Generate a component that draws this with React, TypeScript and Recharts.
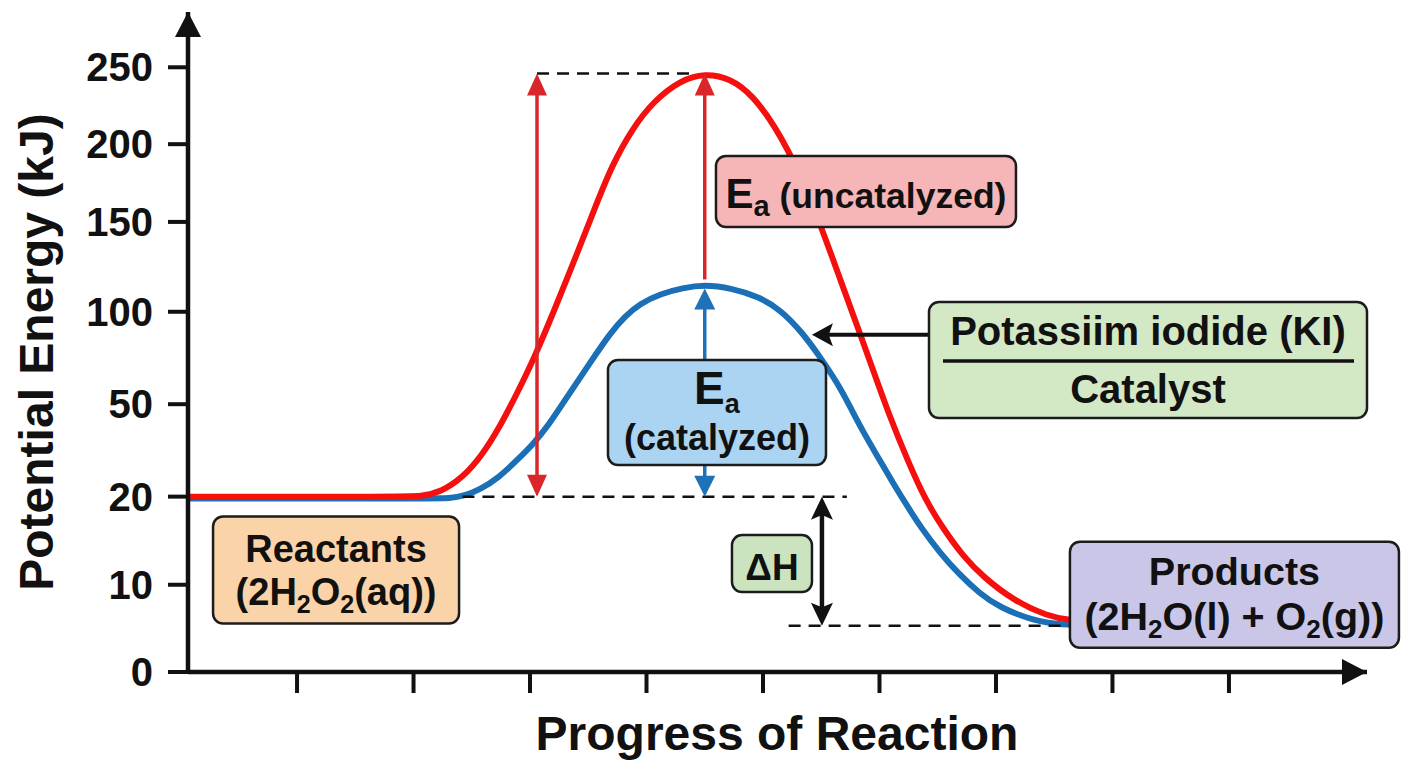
import React from "react";
import { LineChart, Line, XAxis, YAxis, ReferenceLine, ReferenceDot, Label } from "recharts";

const FONT = '"Liberation Sans", Arial, Helvetica, sans-serif';
const INK = "#111111";

// y axis labels sit at (almost) even spacing, so the scale is piecewise
const Y_TICK_VALUES = [0, 10, 20, 50, 100, 150, 200, 250];
const Y_TICK_SLOTS = [0, 1.01, 2.03, 3.1, 4.17, 5.21, 6.11, 7];
const Y_MAX = 7.64;

const X_TICKS = [1, 2, 3, 4, 5, 6, 7, 8, 9];
const X_MIN = 0.064;
const X_MAX = 10.185;

// uncatalyzed path (red)
const UNCAT_X = [0.06, 1.9, 2.06, 2.24, 2.42, 2.59, 2.74, 2.89, 3.04, 3.21, 3.4, 3.56, 3.7, 3.88, 4.06, 4.29, 4.5, 4.72, 4.91, 5.1, 5.31, 5.51, 5.67, 5.83, 5.96, 6.09, 6.24, 6.39, 6.55, 6.72, 6.89, 7.15, 7.44, 7.64, 7.89];
const UNCAT_KJ = [20, 20, 20, 21.6, 26.1, 33.5, 42.6, 56, 75.5, 101.1, 131.7, 159.6, 185.9, 210.4, 227.9, 241.6, 246.1, 242.9, 231.8, 212.3, 182.7, 145.6, 116.7, 88.6, 65.8, 45.8, 31.9, 19.7, 16.3, 13.2, 10.9, 8.2, 6.4, 5.9, 5.7];

// catalyzed path (blue)
const CAT_X = [0.06, 2.15, 2.31, 2.44, 2.57, 2.73, 2.89, 3.02, 3.15, 3.34, 3.52, 3.69, 3.82, 3.94, 4.12, 4.31, 4.5, 4.72, 4.97, 5.15, 5.34, 5.49, 5.64, 5.75, 5.86, 5.99, 6.12, 6.24, 6.35, 6.52, 6.69, 6.86, 7.03, 7.32, 7.55, 7.89];
const CAT_KJ = [19.8, 19.8, 19.8, 20.3, 22.3, 26.1, 31.9, 36.8, 42.6, 56, 72.8, 88.6, 97.8, 104.4, 110, 113.3, 115, 113.3, 108.3, 101.1, 88.6, 75.5, 61.4, 49, 41, 32.6, 24.2, 18.9, 16.6, 13.6, 11.1, 9, 7.4, 5.9, 5.4, 5.4];

const REACTANT_KJ = 20;
const PRODUCT_KJ = 5.3;
const UNCAT_PEAK_KJ = 246;

function toSlot(v: number) {
  for (let i = 1; i < Y_TICK_VALUES.length; i++) {
    if (v <= Y_TICK_VALUES[i]) {
      const a = Y_TICK_VALUES[i - 1];
      const b = Y_TICK_VALUES[i];
      return Y_TICK_SLOTS[i - 1] + ((v - a) / (b - a)) * (Y_TICK_SLOTS[i] - Y_TICK_SLOTS[i - 1]);
    }
  }
  return Y_TICK_SLOTS[Y_TICK_SLOTS.length - 1];
}

const uncatData = UNCAT_X.map((x, i) => ({ x, y: toSlot(UNCAT_KJ[i]) }));
const catData = CAT_X.map((x, i) => ({ x, y: toSlot(CAT_KJ[i]) }));

type ArrowOpts = { color: string; width: number; len: number; headW: number; start?: boolean; end?: boolean; notch?: number };

function arrowShape(o: ArrowOpts) {
  return (p: any) => {
    const { x1, y1, x2, y2 } = p;
    const dx = x2 - x1;
    const dy = y2 - y1;
    const d = Math.hypot(dx, dy) || 1;
    const ux = dx / d;
    const uy = dy / d;
    const nx = -uy;
    const ny = ux;
    const notch = o.notch ?? 0;
    const head = (tx: number, ty: number, dirx: number, diry: number) => {
      const bx = tx - dirx * o.len;
      const by = ty - diry * o.len;
      const mx = tx - dirx * o.len * (1 - notch);
      const my = ty - diry * o.len * (1 - notch);
      const hw = o.headW / 2;
      return `${tx},${ty} ${bx + nx * hw},${by + ny * hw} ${mx},${my} ${bx - nx * hw},${by - ny * hw}`;
    };
    const sx = o.start ? x1 + ux * o.len * 0.7 : x1;
    const sy = o.start ? y1 + uy * o.len * 0.7 : y1;
    const ex = o.end ? x2 - ux * o.len * 0.7 : x2;
    const ey = o.end ? y2 - uy * o.len * 0.7 : y2;
    return (
      <g>
        <line x1={sx} y1={sy} x2={ex} y2={ey} stroke={o.color} strokeWidth={o.width} />
        {o.start && <polygon points={head(x1, y1, -ux, -uy)} fill={o.color} />}
        {o.end && <polygon points={head(x2, y2, ux, uy)} fill={o.color} />}
      </g>
    );
  };
}

const txt = (size: number): React.SVGProps<SVGTextElement> => ({
  fontSize: size,
  fontWeight: 700,
  fontFamily: FONT,
  fill: INK,
  textAnchor: "middle",
});

function boxShape(w: number, h: number, fill: string, body: (cx: number, cy: number) => React.ReactNode) {
  return (p: any) => (
    <g>
      <rect x={p.cx - w / 2} y={p.cy - h / 2} width={w} height={h} rx={10} fill={fill} stroke="#1c1c1c" strokeWidth={2.5} />
      {body(p.cx, p.cy)}
    </g>
  );
}

const YTitle = () => (
  <text {...txt(48)} x={53} y={352} transform="rotate(-90, 53, 352)">
    Potential Energy (kJ)
  </text>
);

const XTitle = () => (
  <text {...txt(48)} x={777} y={750}>
    Progress of Reaction
  </text>
);

export default function App() {
  return (
    <div style={{ position: "absolute", left: 0, top: 0, width: 1408, height: 768, background: "#fff" }}>
      <LineChart width={1408} height={768} margin={{ top: 12, right: 41, bottom: 56, left: 68 }}>
        <XAxis
          type="number"
          dataKey="x"
          domain={[X_MIN, X_MAX]}
          ticks={X_TICKS}
          allowDataOverflow
          height={40}
          tickSize={21}
          tickFormatter={() => ""}
          axisLine={{ stroke: INK, strokeWidth: 4.5 }}
          tickLine={{ stroke: INK, strokeWidth: 4 }}
        >
          <Label content={XTitle} />
        </XAxis>
        <YAxis
          type="number"
          domain={[0, Y_MAX]}
          ticks={Y_TICK_SLOTS}
          interval={0}
          allowDataOverflow
          width={120}
          tickSize={20}
          tickMargin={15}
          tickFormatter={(s: number) => String(Y_TICK_VALUES[Y_TICK_SLOTS.indexOf(s)])}
          tick={{ fill: INK, fontSize: 40, fontWeight: 700, fontFamily: FONT }}
          axisLine={{ stroke: INK, strokeWidth: 4.5 }}
          tickLine={{ stroke: INK, strokeWidth: 4 }}
        >
          <Label content={YTitle} />
        </YAxis>

        <Line data={catData} dataKey="y" type="basis" stroke="#1b6fb6" strokeWidth={6} dot={false} isAnimationActive={false} />
        <Line data={uncatData} dataKey="y" type="basis" stroke="#f50f0f" strokeWidth={6} dot={false} isAnimationActive={false} />

        {/* dashed guides */}
        <ReferenceLine ifOverflow="visible" segment={[{ x: 3.06, y: toSlot(UNCAT_PEAK_KJ) }, { x: 4.4, y: toSlot(UNCAT_PEAK_KJ) }]} stroke={INK} strokeWidth={2.5} strokeDasharray="12 8" />
        <ReferenceLine ifOverflow="visible" segment={[{ x: 2.42, y: toSlot(REACTANT_KJ) }, { x: 5.72, y: toSlot(REACTANT_KJ) }]} stroke={INK} strokeWidth={2.5} strokeDasharray="12 8" />
        <ReferenceLine ifOverflow="visible" segment={[{ x: 5.22, y: toSlot(PRODUCT_KJ) }, { x: 7.64, y: toSlot(PRODUCT_KJ) }]} stroke={INK} strokeWidth={2.5} strokeDasharray="12 8" />

        {/* energy arrows */}
        <ReferenceLine ifOverflow="visible" segment={[{ x: 3.06, y: toSlot(REACTANT_KJ) }, { x: 3.06, y: toSlot(UNCAT_PEAK_KJ) }]} shape={arrowShape({ color: "#d9262b", width: 3.5, len: 22, headW: 20, start: true, end: true })} />
        <ReferenceLine ifOverflow="visible" segment={[{ x: 4.5, y: toSlot(118) }, { x: 4.5, y: toSlot(UNCAT_PEAK_KJ) }]} shape={arrowShape({ color: "#d9262b", width: 3.5, len: 22, headW: 20, end: true })} />
        <ReferenceLine ifOverflow="visible" segment={[{ x: 4.5, y: toSlot(REACTANT_KJ) }, { x: 4.5, y: toSlot(113) }]} shape={arrowShape({ color: "#1f72b8", width: 3.5, len: 21, headW: 21, start: true, end: true })} />
        <ReferenceLine ifOverflow="visible" segment={[{ x: 5.506, y: toSlot(PRODUCT_KJ) }, { x: 5.506, y: toSlot(REACTANT_KJ) }]} shape={arrowShape({ color: INK, width: 4.5, len: 23, headW: 22, start: true, end: true, notch: 0.2 })} />
        <ReferenceLine ifOverflow="visible" segment={[{ x: 6.43, y: toSlot(87.5) }, { x: 5.42, y: toSlot(87.5) }]} shape={arrowShape({ color: INK, width: 4, len: 21, headW: 23, end: true, notch: 0.2 })} />

        {/* label boxes */}
        <ReferenceDot
          ifOverflow="visible"
          x={1.335}
          y={toSlot(11.67)}
          shape={boxShape(246, 107, "#fad3a8", (cx, cy) => (
            <>
              <text {...txt(38)} x={cx} y={cy - 8.5}>Reactants</text>
              <text {...txt(38)} x={cx} y={cy + 34.5}>
                (2H<tspan fontSize={25} dy={8}>2</tspan>
                <tspan dy={-8}>O</tspan>
                <tspan fontSize={25} dy={8}>2</tspan>
                <tspan dy={-8}>(aq))</tspan>
              </text>
            </>
          ))}
        />
        <ReferenceDot
          ifOverflow="visible"
          x={5.884}
          y={toSlot(169.6)}
          shape={boxShape(300, 71, "#f6b6b8", (cx, cy) => (
            <text {...txt(35.5)} x={cx} y={cy + 16.5}>
              <tspan fontSize={42}>E</tspan>
              <tspan fontSize={29} dy={8}>a</tspan>
              <tspan dy={-8}>{" (uncatalyzed)"}</tspan>
            </text>
          ))}
        />
        <ReferenceDot
          ifOverflow="visible"
          x={4.605}
          y={toSlot(47.3)}
          shape={boxShape(218, 105, "#aad4f2", (cx, cy) => (
            <>
              <text {...txt(46)} x={cx} y={cy - 9}>
                E<tspan fontSize={27} dy={9}>a</tspan>
              </text>
              <text {...txt(36)} x={cx} y={cy + 37}>(catalyzed)</text>
            </>
          ))}
        />
        <ReferenceDot
          ifOverflow="visible"
          x={5.077}
          y={toSlot(12.4)}
          shape={boxShape(80, 57, "#cbe3bf", (cx, cy) => (
            <text {...txt(37)} x={cx} y={cy + 16.5}>ΔH</text>
          ))}
        />
        <ReferenceDot
          ifOverflow="visible"
          x={8.305}
          y={toSlot(73.9)}
          shape={boxShape(438, 116, "#d3e8c5", (cx, cy) => (
            <>
              <text {...txt(40)} x={cx} y={cy - 15}>Potassiim iodide (KI)</text>
              <line x1={cx - 205} x2={cx + 206} y1={cy + 1} y2={cy + 1} stroke={INK} strokeWidth={3.5} />
              <text {...txt(40)} x={cx} y={cy + 43}>Catalyst</text>
            </>
          ))}
        />
        <ReferenceDot
          ifOverflow="visible"
          x={9.047}
          y={toSlot(8.85)}
          shape={boxShape(329, 106, "#c9c6e7", (cx, cy) => (
            <>
              <text {...txt(39.5)} x={cx} y={cy - 10}>Products</text>
              <text {...txt(39.5)} x={cx} y={cy + 35}>
                (2H<tspan fontSize={26} dy={8}>2</tspan>
                <tspan dy={-8}>{"O(l) + O"}</tspan>
                <tspan fontSize={26} dy={8}>2</tspan>
                <tspan dy={-8}>(g))</tspan>
              </text>
            </>
          ))}
        />

        {/* axis arrowheads */}
        <ReferenceDot
          ifOverflow="visible"
          x={X_MIN}
          y={Y_MAX}
          shape={(p: any) => <polygon points={`${p.cx},${p.cy} ${p.cx - 13},${p.cy + 25} ${p.cx + 13},${p.cy + 25}`} fill={INK} />}
        />
        <ReferenceDot
          ifOverflow="visible"
          x={X_MAX}
          y={0}
          shape={(p: any) => <polygon points={`${p.cx},${p.cy} ${p.cx - 25},${p.cy - 13} ${p.cx - 25},${p.cy + 13}`} fill={INK} />}
        />
      </LineChart>
    </div>
  );
}
